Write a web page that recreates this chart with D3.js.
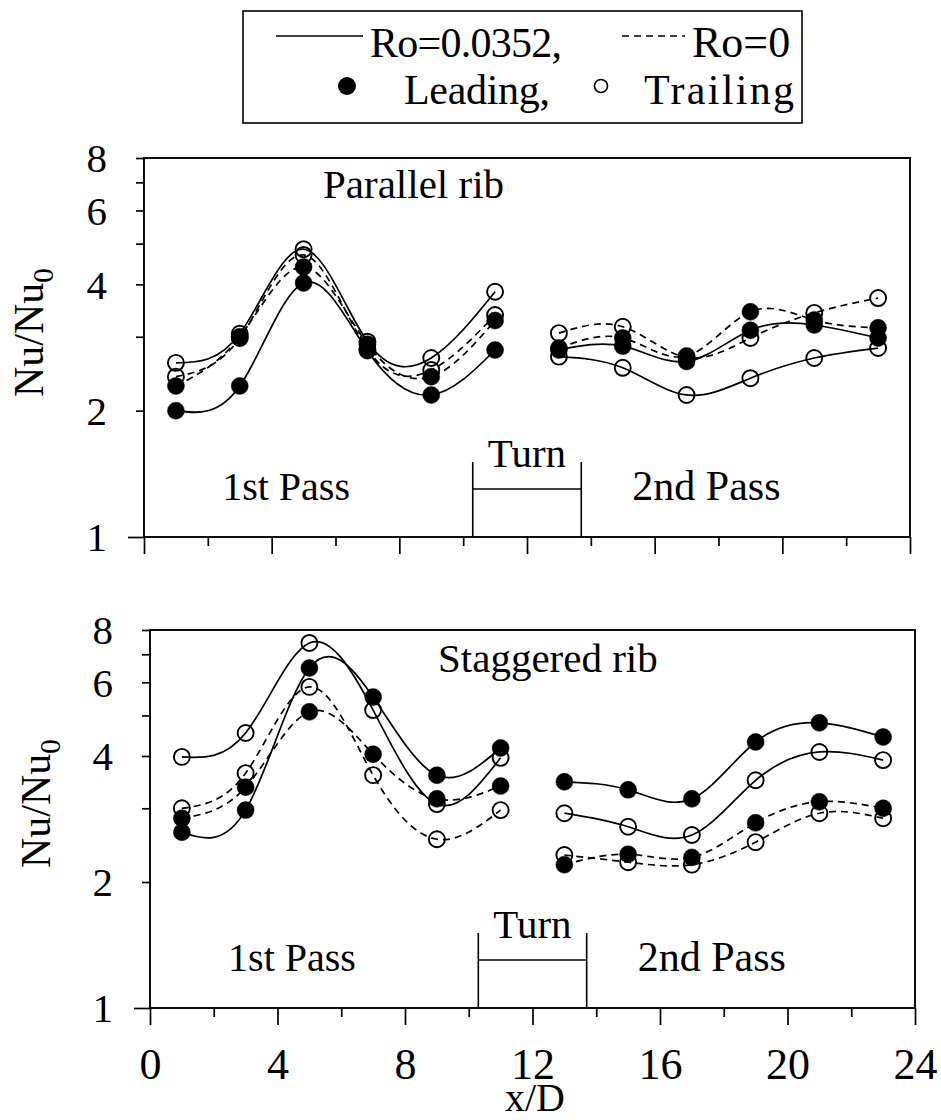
<!DOCTYPE html>
<html>
<head>
<meta charset="utf-8">
<script src="https://cdn.jsdelivr.net/npm/d3@7"></script>
<style>
  body { margin: 0; background: #fff; }
  svg text { font-family: "Liberation Serif", "Times New Roman", Tinos, "DejaVu Serif", serif; fill: #000; }
</style>
</head>
<body>
<div id="chart"></div>
<script>
//==================================
// data
//==================================
var xPass1 = [1, 3, 5, 7, 9, 11];
var xPass2 = [13, 15, 17, 19, 21, 23];
var xTicks = [0, 2, 4, 6, 8, 10, 12, 14, 16, 18, 20, 22, 24];
var xTickLabels = [0, 4, 8, 12, 16, 20, 24];
var yTicks = [1, 2, 3, 4, 5, 6, 7, 8];
var yTickLabels = [1, 2, 4, 6, 8];
var turnRange = [10.3, 13.7];

var panelTitles = ["Parallel rib", "Staggered rib"];
var seriesNames = ["Ro=0.0352 Leading", "Ro=0.0352 Trailing", "Ro=0 Leading", "Ro=0 Trailing"];

// parallel rib (x = 1..11, 13..23)
var parRotLead   = [2.00, 2.29, 4.03, 2.78, 2.18, 2.79, 2.79, 2.85, 2.62, 3.11, 3.20, 2.98];
var parRotTrail  = [2.60, 3.05, 4.85, 2.92, 2.67, 3.84, 2.69, 2.53, 2.18, 2.39, 2.67, 2.82];
var parStatLead  = [2.29, 3.00, 4.40, 2.88, 2.41, 3.28, 2.82, 2.98, 2.70, 3.44, 3.29, 3.15];
var parStatTrail = [2.41, 2.98, 4.70, 2.80, 2.50, 3.38, 3.06, 3.17, 2.68, 2.98, 3.42, 3.71];

// staggered rib
var stgRotLead   = [2.63, 2.97, 6.49, 5.53, 3.60, 4.18, 3.47, 3.32, 3.16, 4.32, 4.80, 4.44];
var stgRotTrail  = [3.98, 4.54, 7.45, 5.15, 3.07, 3.96, 2.92, 2.71, 2.59, 3.50, 4.09, 3.91];
var stgStatLead  = [2.84, 3.37, 5.10, 4.04, 3.16, 3.39, 2.20, 2.33, 2.29, 2.77, 3.11, 3.00];
var stgStatTrail = [3.00, 3.64, 5.85, 3.60, 2.53, 2.97, 2.32, 2.23, 2.20, 2.49, 2.92, 2.84];

//==================================
// layout
//==================================
var width = 941, height = 1120;
var serif = '"Liberation Serif", "Times New Roman", Tinos, "DejaVu Serif", serif';
var svg = d3.select("#chart").append("svg")
    .attr("width", width)
    .attr("height", height)
    .attr("font-family", serif);

// style per series: solid = rotating, dashed = stationary; filled = leading
var styles = [
  { dash: null,  filled: true },
  { dash: null,  filled: false },
  { dash: "7,5", filled: true },
  { dash: "7,5", filled: false }
];

var panels = [
  { box: { left: 144, right: 910, top: 158, bottom: 537 }, series: [parRotLead, parRotTrail, parStatLead, parStatTrail],
    titleAt: [179, 40], yLabelAt: [43, 397], showX: false },
  { box: { left: 150, right: 915, top: 630, bottom: 1008 }, series: [stgRotLead, stgRotTrail, stgStatLead, stgStatTrail],
    titleAt: [288, 42], yLabelAt: [50, 868], showX: true }
];

function drawPanel(p, idx){
  var b = p.box;
  var x = d3.scaleLinear().domain([0, 24]).range([b.left, b.right]);
  var y = d3.scaleLog().domain([1, 8]).range([b.bottom, b.top]);
  var g = svg.append("g");

  // frame
  g.append("rect")
    .attr("x", b.left).attr("y", b.top)
    .attr("width", b.right - b.left).attr("height", b.bottom - b.top)
    .attr("fill", "none").attr("stroke", "#000").attr("stroke-width", 1.9);

  // y axis
  var yAxis = d3.axisLeft(y)
    .tickValues(yTicks)
    .tickSize(8)
    .tickSizeOuter(0)
    .tickPadding(29)
    .tickFormat(function(d){ return yTickLabels.indexOf(d) >= 0 ? d : ""; });
  var ya = g.append("g").attr("transform", "translate(" + b.left + ",0)").call(yAxis)
    .attr("font-family", serif);
  ya.select(".domain").remove();
  ya.selectAll("line").attr("stroke-width", 1.7)
    .attr("x2", function(d){ return d === 1 ? -16 : -8; });
  ya.selectAll("text").attr("font-size", 41).attr("dy", "0.34em");

  // x axis
  var xAxis = d3.axisBottom(x)
    .tickValues(xTicks)
    .tickSizeOuter(0)
    .tickFormat(function(d){ return (p.showX && xTickLabels.indexOf(d) >= 0) ? d : ""; });
  var xa = g.append("g").attr("transform", "translate(0," + b.bottom + ")").call(xAxis)
    .attr("font-family", serif);
  xa.select(".domain").remove();
  xa.selectAll("line").attr("stroke-width", 1.7)
    .attr("y2", function(d){ return d % 4 === 0 ? 17 : 9; });
  xa.selectAll("text").attr("font-size", 44)
    .attr("y", 71).attr("dy", 0);

  // y label
  var yl = g.append("text")
    .attr("transform", "translate(" + p.yLabelAt[0] + "," + p.yLabelAt[1] + ") rotate(-90)")
    .attr("font-size", 42);
  yl.append("tspan").text("Nu/Nu");
  yl.append("tspan").attr("font-size", 29).attr("dy", 10).text("0");

  // annotations
  g.append("text").attr("x", b.left + p.titleAt[0]).attr("y", b.top + p.titleAt[1])
    .attr("font-size", 41).text(panelTitles[idx]);
  g.append("text").attr("x", x(2.45)).attr("y", b.bottom - 37)
    .attr("font-size", 40).text("1st Pass");
  g.append("text").attr("x", x(15.3)).attr("y", b.bottom - 37)
    .attr("font-size", 42).text("2nd Pass");
  g.append("text").attr("x", x((turnRange[0] + turnRange[1]) / 2)).attr("y", b.bottom - 70)
    .attr("text-anchor", "middle").attr("font-size", 41).text("Turn");
  var tb = g.append("g").attr("stroke", "#000").attr("stroke-width", 1.6);
  turnRange.forEach(function(t){
    tb.append("line").attr("x1", x(t)).attr("x2", x(t)).attr("y1", b.bottom - 75).attr("y2", b.bottom);
  });
  tb.append("line").attr("x1", x(turnRange[0])).attr("x2", x(turnRange[1]))
    .attr("y1", b.bottom - 48).attr("y2", b.bottom - 48);

  // curves
  var line = d3.line()
    .x(function(d){ return x(d[0]); })
    .y(function(d){ return y(d[1]); })
    .curve(d3.curveNatural);

  p.series.forEach(function(vals, si){
    var st = styles[si];
    [xPass1, xPass2].forEach(function(xs, k){
      var pts = xs.map(function(xv, i){ return [xv, vals[k * 6 + i]]; });
      g.append("path").datum(pts)
        .attr("d", line)
        .attr("fill", "none")
        .attr("stroke", "#000")
        .attr("stroke-width", 1.7)
        .attr("stroke-dasharray", st.dash);
    });
  });

  // markers, filled first
  [0, 2, 1, 3].forEach(function(si){
    var st = styles[si];
    var vals = p.series[si];
    var pts = xPass1.concat(xPass2).map(function(xv, i){ return [xv, vals[i]]; });
    g.selectAll(null).data(pts).enter().append("circle")
      .attr("cx", function(d){ return x(d[0]); })
      .attr("cy", function(d){ return y(d[1]); })
      .attr("r", st.filled ? 8.5 : 8)
      .attr("fill", st.filled ? "#000" : "none")
      .attr("stroke", "#000")
      .attr("stroke-width", st.filled ? 0.5 : 1.9);
  });
}

panels.forEach(drawPanel);

// x axis title
svg.append("text").attr("x", 535).attr("y", 1111)
  .attr("text-anchor", "middle").attr("font-size", 40).text("x/D");

//==================================
// legend
//==================================
var lg = svg.append("g");
lg.append("rect").attr("x", 243).attr("y", 11).attr("width", 559).attr("height", 112)
  .attr("fill", "#fff").attr("stroke", "#000").attr("stroke-width", 1.6);
lg.append("line").attr("x1", 276).attr("x2", 363).attr("y1", 36).attr("y2", 36)
  .attr("stroke", "#000").attr("stroke-width", 1.6);
lg.append("text").attr("x", 370).attr("y", 57).attr("font-size", 42)
  .attr("textLength", 192).attr("lengthAdjust", "spacing").text("Ro=0.0352,");
lg.append("line").attr("x1", 622).attr("x2", 685).attr("y1", 36).attr("y2", 36)
  .attr("stroke", "#000").attr("stroke-width", 1.6).attr("stroke-dasharray", "7,5");
lg.append("text").attr("x", 692).attr("y", 57).attr("font-size", 44).text("Ro=0");
lg.append("circle").attr("cx", 347).attr("cy", 86).attr("r", 9).attr("fill", "#000");
lg.append("text").attr("x", 404).attr("y", 104).attr("font-size", 42)
  .attr("textLength", 146).attr("lengthAdjust", "spacing").text("Leading,");
lg.append("circle").attr("cx", 601).attr("cy", 86).attr("r", 6.5)
  .attr("fill", "none").attr("stroke", "#000").attr("stroke-width", 1.6);
lg.append("text").attr("x", 644).attr("y", 104).attr("font-size", 42)
  .attr("textLength", 150).attr("lengthAdjust", "spacing").text("Trailing");
</script>
</body>
</html>
